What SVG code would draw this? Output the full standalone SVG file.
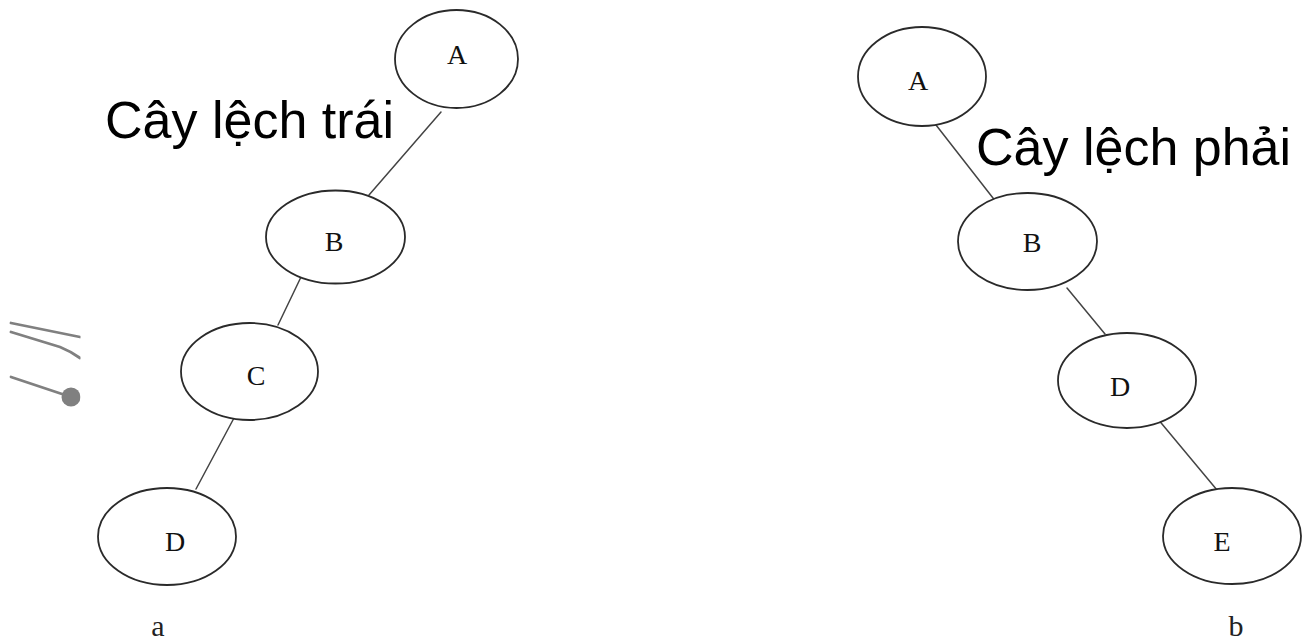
<svg xmlns="http://www.w3.org/2000/svg" width="1308" height="644" viewBox="0 0 1308 644">
<style>
.node ellipse{fill:#fff;stroke:#2a2a2a;stroke-width:1.8}
.node text{font-family:"Liberation Serif",serif;font-size:28px;fill:#111;text-anchor:middle}
#connectors line{stroke:#444;stroke-width:1.5;stroke-linecap:round}
.title{font-family:"Liberation Sans",Arial,sans-serif;font-size:52px;fill:#000}
.cap{font-family:"Liberation Serif",serif;font-size:30px;fill:#222;text-anchor:middle}
.deco{stroke:#808080;stroke-width:2.8;fill:none;stroke-linecap:round}
</style>
<defs>
<clipPath id="decoClip"><rect x="0" y="300" width="80.5" height="120"/></clipPath>
</defs>
<rect width="1308" height="644" fill="#fff"/>
<g id="connectors">
<line x1="441" y1="112" x2="369" y2="195"/>
<line x1="301" y1="277" x2="278" y2="325"/>
<line x1="234" y1="418" x2="196" y2="489"/>
<line x1="936" y1="125" x2="1000" y2="207"/>
<line x1="1067" y1="288" x2="1105" y2="334"/>
<line x1="1157" y1="418" x2="1217" y2="490"/>
</g>
<g id="node-a-A" class="node"><ellipse cx="456.5" cy="59" rx="61.5" ry="49"/><text x="457" y="64">A</text></g>
<g id="node-a-B" class="node"><ellipse cx="335.5" cy="237" rx="69.5" ry="46.5"/><text x="334" y="251">B</text></g>
<g id="node-a-C" class="node"><ellipse cx="249.5" cy="371.5" rx="68.5" ry="48.5"/><text x="256" y="385">C</text></g>
<g id="node-a-D" class="node"><ellipse cx="167" cy="536.5" rx="69" ry="48.5"/><text x="175" y="551">D</text></g>
<g id="node-b-A" class="node"><ellipse cx="922" cy="76.5" rx="64" ry="49.5"/><text x="918" y="90">A</text></g>
<g id="node-b-B" class="node"><ellipse cx="1027.5" cy="241.5" rx="69.5" ry="48.5"/><text x="1032" y="252">B</text></g>
<g id="node-b-D" class="node"><ellipse cx="1127" cy="380.5" rx="69" ry="47.5"/><text x="1120" y="396">D</text></g>
<g id="node-b-E" class="node"><ellipse cx="1232" cy="536" rx="69" ry="48"/><text x="1222" y="551">E</text></g>
<text class="title" x="105" y="138">Cây lệch trái</text>
<text class="title" x="976" y="165">Cây lệch phải</text>
<text class="cap" x="158" y="636">a</text>
<text class="cap" x="1236" y="636">b</text>
<g id="decoration" clip-path="url(#decoClip)">
<path class="deco" d="M11 323 L80 337"/>
<path class="deco" d="M11 332 L60 347 Q70 351 80 358"/>
<path class="deco" d="M11 377 L68 396"/>
<circle cx="71" cy="397" r="9.5" fill="#808080"/>
</g>
</svg>
